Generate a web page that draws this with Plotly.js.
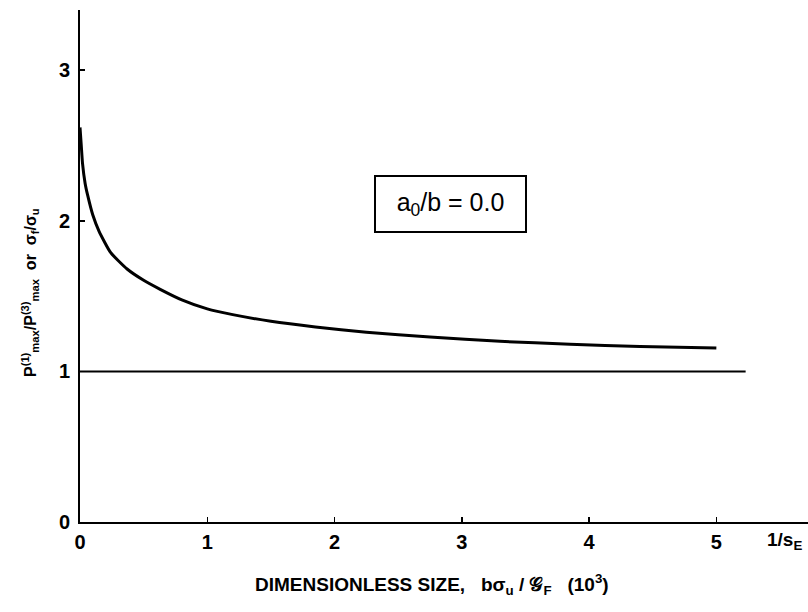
<!DOCTYPE html>
<html>
<head>
<meta charset="utf-8">
<script src="https://cdn.plot.ly/plotly-3.0.1.min.js"></script>
<style>html,body{margin:0;padding:0;background:#fff;}#chart{width:808px;height:612px;}</style>
</head>
<body>
<div id="chart"></div>
<script>
// Curve: P(1)max/P(3)max (or sigma_f/sigma_u) vs dimensionless size, a0/b = 0.0
const sizeX = [0.0, 0.01, 0.02, 0.04, 0.06, 0.1, 0.15, 0.24, 0.37, 0.5, 0.63, 0.8, 1.0, 1.2, 1.5, 1.85, 2.25, 2.75, 3.3, 3.85, 4.4, 5.0];
const ratioY = [2.62, 2.50, 2.38, 2.25, 2.17, 2.04, 1.93, 1.79, 1.68, 1.605, 1.545, 1.475, 1.415, 1.377, 1.333, 1.295, 1.26, 1.228, 1.20, 1.18, 1.166, 1.155];
// Reference level line
const refX = [0, 5.23];
const refY = [1, 1];
const xTicks = [0, 1, 2, 3, 4, 5];
const yTicks = [0, 1, 2, 3];

const FONT = "Liberation Sans, Arial, sans-serif";

const traces = [
  {x: sizeX, y: ratioY, mode: 'lines', line: {color: '#000', width: 3, shape: 'spline', smoothing: 0.5}, hoverinfo: 'skip'},
  {x: refX, y: refY, mode: 'lines', line: {color: '#000', width: 2}, hoverinfo: 'skip'}
];

const layout = {
  width: 808, height: 612,
  margin: {l: 80, r: 0, t: 10, b: 90},
  paper_bgcolor: '#fff', plot_bgcolor: '#fff',
  showlegend: false,
  xaxis: {
    range: [0, 5.72], showgrid: false, zeroline: false,
    showline: true, linecolor: '#000', linewidth: 2,
    ticks: 'inside', ticklen: 5, tickwidth: 1.5, tickcolor: '#000',
    tickvals: xTicks, ticktext: xTicks.map(String),
    tickfont: {family: FONT, size: 20, color: '#000', weight: 'bold'},
    ticklabelstandoff: 1
  },
  yaxis: {
    range: [0, 3.40], showgrid: false, zeroline: false,
    showline: true, linecolor: '#000', linewidth: 2,
    ticks: 'inside', ticklen: 5, tickwidth: 1.5, tickcolor: '#000',
    tickvals: yTicks, ticktext: yTicks.map(String),
    tickfont: {family: FONT, size: 20, color: '#000', weight: 'bold'},
    ticklabelstandoff: 4
  },
  annotations: [
    {xref: 'x', yref: 'y', x: 2.91, y: 2.11, xanchor: 'center', yanchor: 'middle', showarrow: false,
     text: 'a<sub>0</sub>/b = 0.0', width: 149, height: 54, borderpad: 0,
     font: {family: FONT, size: 25, color: '#000'},
     bordercolor: '#000', borderwidth: 2, bgcolor: '#fff'},
    {xref: 'paper', yref: 'paper', x: (784 - 80) / 728, y: -(541 - 522) / 512, xanchor: 'center', yanchor: 'middle', showarrow: false,
     text: '<b>1/s<sub>E</sub></b>',
     font: {family: FONT, size: 19, color: '#000'}},
    {xref: 'paper', yref: 'paper', x: (432 - 80) / 728, y: -(584 - 522) / 512, xanchor: 'center', yanchor: 'middle', showarrow: false,
     text: '<b>DIMENSIONLESS SIZE,   bσ<sub>u</sub> / 𝒢<sub>F</sub>   (10<sup>3</sup>)</b>',
     font: {family: FONT, size: 19, color: '#000'}},
    {xref: 'paper', yref: 'paper', x: -(80 - 30) / 728, y: (522 - 292) / 512, xanchor: 'center', yanchor: 'middle', showarrow: false,
     textangle: -90,
     text: '<b>P<sup>(1)</sup><sub>max</sub>/P<sup>(3)</sup><sub>max</sub>  or  σ<sub>f</sub>/σ<sub>u</sub></b>',
     font: {family: FONT, size: 16, color: '#000'}}
  ]
};

Plotly.newPlot('chart', traces, layout, {displayModeBar: false, staticPlot: true});
</script>
</body>
</html>
